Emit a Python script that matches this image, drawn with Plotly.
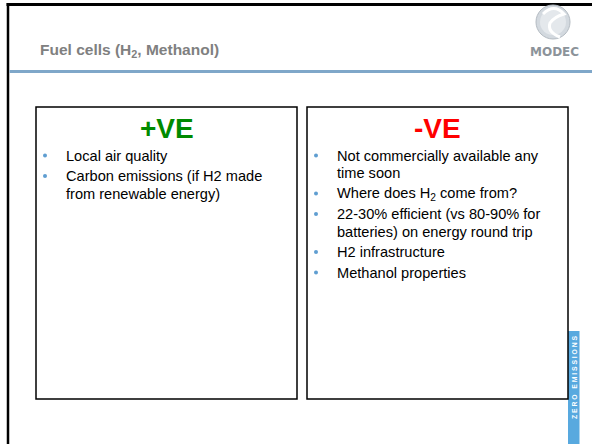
import plotly.graph_objects as go

# ---- content ----
title_text = "Fuel cells (H<sub>2</sub>, Methanol)"
pos_heading = "+VE"
neg_heading = "-VE"
pos_items = [
    ["Local air quality"],
    ["Carbon emissions (if H2 made", "from renewable energy)"],
]
neg_items = [
    ["Not commercially available any", "time soon"],
    ["Where does H<sub>2</sub> come from?"],
    ["22-30% efficient (vs 80-90% for", "batteries) on energy round trip"],
    ["H2 infrastructure"],
    ["Methanol properties"],
]
strip_text = "ZERO EMISSIONS"
logo_text = "MODEC"

W, H = 592, 444
FONT = "Liberation Sans, Arial, sans-serif"
BULLET_COLOR = "#5F9ED1"

fig = go.Figure()
shapes = []
annotations = []


def note(**kw):
    kw.setdefault("showarrow", False)
    kw.setdefault("xref", "x")
    kw.setdefault("yref", "y")
    kw.setdefault("borderpad", 0)
    annotations.append(kw)


# slide frame (top and left black border)
shapes.append(dict(type="line", x0=6.5, x1=W, y0=4.5, y1=4.5, line=dict(color="#000", width=3)))
shapes.append(dict(type="line", x0=8, x1=8, y0=3, y1=H, line=dict(color="#000", width=2.5)))
# header rule
shapes.append(dict(type="line", x0=9.5, x1=W, y0=71.5, y1=71.5, line=dict(color="#7FA7C9", width=3)))

# title
note(x=38.5, y=50, text="<b>" + title_text + "</b>", xanchor="left", yanchor="middle",
     font=dict(family=FONT, size=15.5, color="#808080"))

# logo
LX = 553
shapes.append(dict(type="circle", x0=LX - 17, x1=LX + 17, y0=5, y1=39, fillcolor="#D3D9DF",
                   line=dict(color="#B4BBC2", width=1)))
shapes.append(dict(type="circle", x0=LX - 13, x1=LX + 13, y0=9, y1=35, fillcolor="#E4E8EC",
                   line=dict(width=0)))
shapes.append(dict(type="path",
                   path=f"M {LX-10},14 Q {LX+1},3 {LX+11},14 Q {LX+1},17 {LX-3},23 Q {LX-6},32 {LX+7},37",
                   line=dict(color="#FFFFFF", width=3)))
note(x=LX + 1, y=51.5, text="<b>" + logo_text + "</b>", xanchor="center", yanchor="middle",
     font=dict(family="DejaVu Sans, sans-serif", size=12, color="#8C939A"))

# zero emissions strip
shapes.append(dict(type="rect", x0=568, x1=579.5, y0=331, y1=H, fillcolor="#58A9DF", line=dict(width=0)))
note(x=574, y=377, text="<b>" + " ".join(strip_text) + "</b>", textangle=-90,
     xanchor="center", yanchor="middle", font=dict(family=FONT, size=6.8, color="#FFFFFF"))

# boxes
boxes = [
    dict(x0=36, x1=297, heading=pos_heading, color="#008A00", items=pos_items),
    dict(x0=307, x1=568, heading=neg_heading, color="#FF0000", items=neg_items),
]
BOX_TOP, BOX_BOT = 107, 399
FIRST_LINE = 155.5
WRAP_GAP = 17.5
PARA_GAP = 20.5

for b in boxes:
    shapes.append(dict(type="rect", x0=b["x0"], x1=b["x1"], y0=BOX_TOP, y1=BOX_BOT,
                       line=dict(color="#000", width=1.5), fillcolor="rgba(0,0,0,0)"))
    cx = (b["x0"] + b["x1"]) / 2
    note(x=cx, y=128.5, text="<b>" + b["heading"] + "</b>", xanchor="center",
         yanchor="middle", font=dict(family=FONT, size=28, color=b["color"]))
    y = FIRST_LINE
    bx, by = [], []
    for para in b["items"]:
        bx.append(b["x0"] + 9)
        by.append(y)
        for j, line in enumerate(para):
            note(x=b["x0"] + 28.5, y=y, text=line, xanchor="left", yanchor="middle",
                 font=dict(family=FONT, size=14.6, color="#000"))
            if j < len(para) - 1:
                y += WRAP_GAP
        y += PARA_GAP
    fig.add_trace(go.Scatter(x=bx, y=by, mode="markers", hoverinfo="skip",
                             marker=dict(size=4, color=BULLET_COLOR, line=dict(width=0))))

fig.update_layout(
    width=W, height=H, margin=dict(l=0, r=0, t=0, b=0),
    paper_bgcolor="white", plot_bgcolor="white", showlegend=False,
    xaxis=dict(range=[0, W], visible=False, fixedrange=True),
    yaxis=dict(range=[H, 0], visible=False, fixedrange=True),
    shapes=shapes, annotations=annotations,
)
fig.write_html("out.html", config={"displayModeBar": False},
               post_script="document.body.style.margin='0';document.body.style.overflow='hidden';")
